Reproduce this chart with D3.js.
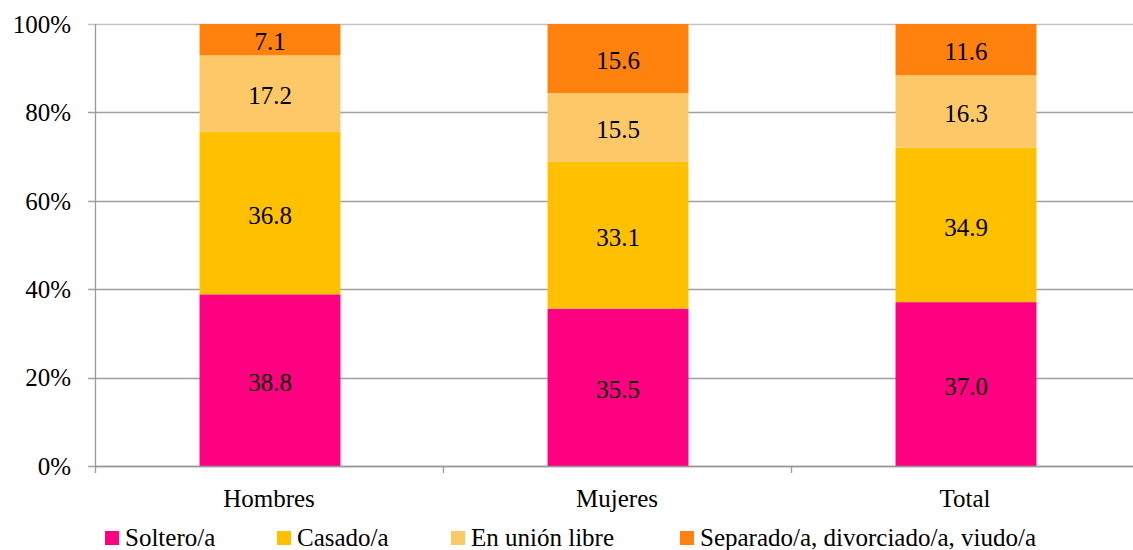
<!DOCTYPE html>
<html>
<head>
<meta charset="utf-8">
<script src="https://cdn.jsdelivr.net/npm/d3@7"></script>
<style>
  body { margin: 0; background: #fff; }
  svg text { font-family: "Times New Roman", Times, "Liberation Serif", "DejaVu Serif", serif !important; }
</style>
</head>
<body>
<svg id="chart" width="1133" height="550"></svg>
<script>
// categories and series
const groups = ["Hombres", "Mujeres", "Total"];
const seriesNames = ["Soltero/a", "Casado/a", "En unión libre", "Separado/a, divorciado/a, viudo/a"];
const soltero = [38.8, 35.5, 37.0];
const casado = [36.8, 33.1, 34.9];
const unionLibre = [17.2, 15.5, 16.3];
const separado = [7.1, 15.6, 11.6];
const yTicks = [0, 0.2, 0.4, 0.6, 0.8, 1];

const colors = ["#FF0080", "#FFC000", "#FDC968", "#FF820E"];
const serif = "'Times New Roman', Times, 'Liberation Serif', 'DejaVu Serif', serif";

const w = 1133, h = 550;
const margin = {top: 24, right: -6, bottom: 84, left: 95};

const rows = groups.map((g, i) => ({
  group: g,
  "Soltero/a": soltero[i],
  "Casado/a": casado[i],
  "En unión libre": unionLibre[i],
  "Separado/a, divorciado/a, viudo/a": separado[i]
}));

const stacked = d3.stack()
  .keys(seriesNames)
  .offset(d3.stackOffsetExpand)(rows);

const svg = d3.select("#chart");

const x = d3.scaleBand()
  .domain(groups)
  .range([margin.left, w - margin.right])
  .paddingInner(0)
  .paddingOuter(0);

const y = d3.scaleLinear()
  .domain([0, 1])
  .range([h - margin.bottom, margin.top]);

const color = d3.scaleOrdinal().domain(seriesNames).range(colors);

// gridlines
svg.append("g")
  .selectAll("line")
  .data(yTicks)
  .join("line")
  .attr("x1", margin.left - 7)
  .attr("x2", w)
  .attr("y1", d => Math.round(y(d)) + 0.5)
  .attr("y2", d => Math.round(y(d)) + 0.5)
  .attr("stroke", d => d === 1 ? "#c4c4c4" : "#a0a0a0")
  .attr("stroke-width", 1.3);

// y labels
svg.append("g")
  .selectAll("text")
  .data(yTicks)
  .join("text")
  .attr("x", 71)
  .attr("y", d => y(d))
  .attr("dy", "0.35em")
  .attr("text-anchor", "end")
  .attr("font-size", 25)
  .style("font-family", serif)
  .text(d => d3.format(".0%")(d));

// bars
const barW = x.bandwidth() * 0.405;
const layer = svg.append("g")
  .selectAll("g")
  .data(stacked)
  .join("g")
  .attr("fill", d => color(d.key));

layer.selectAll("rect")
  .data(d => d)
  .join("rect")
  .attr("x", d => x(d.data.group) + x.bandwidth() / 2 - barW / 2 + 1)
  .attr("width", barW)
  .attr("y", d => y(d[1]))
  .attr("height", d => y(d[0]) - y(d[1]));

// value labels
stacked.forEach(s => {
  svg.append("g")
    .selectAll("text")
    .data(s)
    .join("text")
    .attr("x", d => x(d.data.group) + x.bandwidth() / 2 + 1)
    .attr("y", d => (y(d[0]) + y(d[1])) / 2 + 2)
    .attr("dy", "0.35em")
    .attr("text-anchor", "middle")
    .attr("font-size", 25)
    .attr("fill", "#000")
    .style("font-family", serif)
    .text(d => d3.format(".1f")(d.data[s.key]));
});

// axes
svg.append("line")
  .attr("x1", margin.left + 0.5).attr("x2", margin.left + 0.5)
  .attr("y1", margin.top).attr("y2", y(0) + 7)
  .attr("stroke", "#999").attr("stroke-width", 1.3);

svg.append("line")
  .attr("x1", margin.left).attr("x2", w)
  .attr("y1", Math.round(y(0)) + 0.5).attr("y2", Math.round(y(0)) + 0.5)
  .attr("stroke", "#999").attr("stroke-width", 1.3);

// x ticks at band edges
svg.append("g")
  .selectAll("line")
  .data(groups.slice(1))
  .join("line")
  .attr("x1", d => x(d) + 0.5).attr("x2", d => x(d) + 0.5)
  .attr("y1", y(0)).attr("y2", y(0) + 7)
  .attr("stroke", "#999").attr("stroke-width", 1.3);

// x labels
svg.append("g")
  .selectAll("text")
  .data(groups)
  .join("text")
  .attr("x", d => x(d) + x.bandwidth() / 2)
  .attr("y", 507)
  .attr("text-anchor", "middle")
  .attr("font-size", 25)
  .style("font-family", serif)
  .text(d => d);

// legend
const legendX = [105, 277, 451, 680];
const legend = svg.append("g")
  .selectAll("g")
  .data(seriesNames)
  .join("g")
  .attr("transform", (d, i) => `translate(${legendX[i]},531)`);

legend.append("rect")
  .attr("width", 14).attr("height", 14)
  .attr("fill", d => color(d));

legend.append("text")
  .attr("x", 20)
  .attr("y", 6)
  .attr("dy", "0.35em")
  .attr("font-size", 25)
  .style("font-family", serif)
  .text(d => d);
</script>
</body>
</html>
